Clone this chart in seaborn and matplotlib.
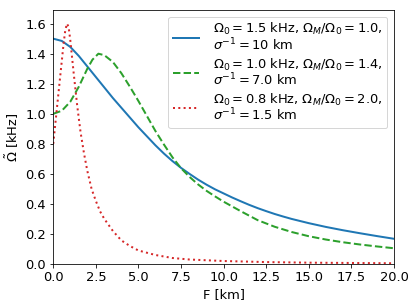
import matplotlib
matplotlib.use("Agg")
import matplotlib.pyplot as plt
import seaborn as sns

# Perfis de rotação (F em km, Omega em kHz)
F_azul = [0.0, 0.5, 1.0, 1.5, 2.0, 2.5, 3.0, 3.5, 4.0, 4.5, 5.0, 5.5, 6.0, 6.5,
          7.0, 7.5, 8.0, 8.5, 9.0, 9.5, 10.0, 10.5, 11.0, 11.5, 12.0, 12.5,
          13.0, 13.5, 14.0, 15.0, 16.0, 17.0, 18.0, 19.0, 20.0]
W_azul = [1.50, 1.485, 1.445, 1.385, 1.315, 1.245, 1.175, 1.105, 1.04, 0.975, 0.91, 0.85,
          0.79, 0.735, 0.685, 0.64, 0.60, 0.562, 0.528, 0.497, 0.47, 0.443, 0.418,
          0.394, 0.372, 0.352, 0.333, 0.316, 0.30, 0.272, 0.247, 0.225, 0.205, 0.186, 0.168]

F_verde = [0.0, 0.5, 1.0, 1.5, 2.0, 2.3, 2.65, 3.0, 3.5, 4.0, 4.5, 5.0, 5.5, 6.0,
           6.5, 7.0, 7.5, 8.0, 8.5, 9.0, 9.5, 10.0, 11.0, 12.0, 13.0, 14.0,
           15.0, 16.0, 17.0, 18.0, 19.0, 20.0]
W_verde = [1.00, 1.02, 1.08, 1.18, 1.30, 1.36, 1.40, 1.39, 1.345, 1.27, 1.18, 1.085,
           0.985, 0.885, 0.795, 0.71, 0.638, 0.58, 0.53, 0.487, 0.45, 0.415, 0.352,
           0.292, 0.248, 0.213, 0.185, 0.163, 0.145, 0.13, 0.117, 0.105]

F_verm = [0.0, 0.2, 0.4, 0.6, 0.7, 0.8, 0.9, 1.0, 1.2, 1.4, 1.6, 1.8, 2.0, 2.25,
          2.5, 2.75, 3.0, 3.5, 4.0, 4.5, 5.0, 6.0, 7.0, 8.0, 10.0, 12.5, 15.0,
          17.5, 20.0]
W_verm = [0.80, 1.02, 1.24, 1.46, 1.55, 1.60, 1.58, 1.49, 1.27, 1.06, 0.88, 0.74, 0.62,
          0.50, 0.42, 0.35, 0.30, 0.22, 0.157, 0.12, 0.09, 0.06, 0.04, 0.03, 0.02,
          0.013, 0.009, 0.007, 0.005]

rotulos = [
    "$\\Omega_0 = 1.5$ kHz, $\\Omega_M/\\Omega_0 = 1.0$,\n$\\sigma^{-1} = 10$ km",
    "$\\Omega_0 = 1.0$ kHz, $\\Omega_M/\\Omega_0 = 1.4$,\n$\\sigma^{-1} = 7.0$ km",
    "$\\Omega_0 = 0.8$ kHz, $\\Omega_M/\\Omega_0 = 2.0$,\n$\\sigma^{-1} = 1.5$ km",
]

plt.rcParams["font.size"] = 13

fig = plt.figure(figsize=(416 / 72, 307 / 72), dpi=72)
ax = fig.add_axes([0.128, 0.14, 0.819, 0.827])

sns.lineplot(x=F_azul, y=W_azul, ax=ax, color="tab:blue", linewidth=2,
             linestyle="-", label=rotulos[0])
sns.lineplot(x=F_verde, y=W_verde, ax=ax, color="tab:green", linewidth=2,
             linestyle="--", label=rotulos[1])
sns.lineplot(x=F_verm, y=W_verm, ax=ax, color="tab:red", linewidth=2,
             linestyle=":", label=rotulos[2])

ax.set_xlim(0, 20)
ax.set_ylim(0, 1.69)
ax.set_xlabel("F [km]")
ax.set_ylabel("$\\tilde{\\Omega}$ [kHz]")

leg = ax.legend(loc="upper right", labelspacing=0.25, handletextpad=1.1,
                borderpad=0.35)
for t in leg.get_texts():
    t.set_linespacing(0.95)

fig.savefig("out.png", dpi=72)
